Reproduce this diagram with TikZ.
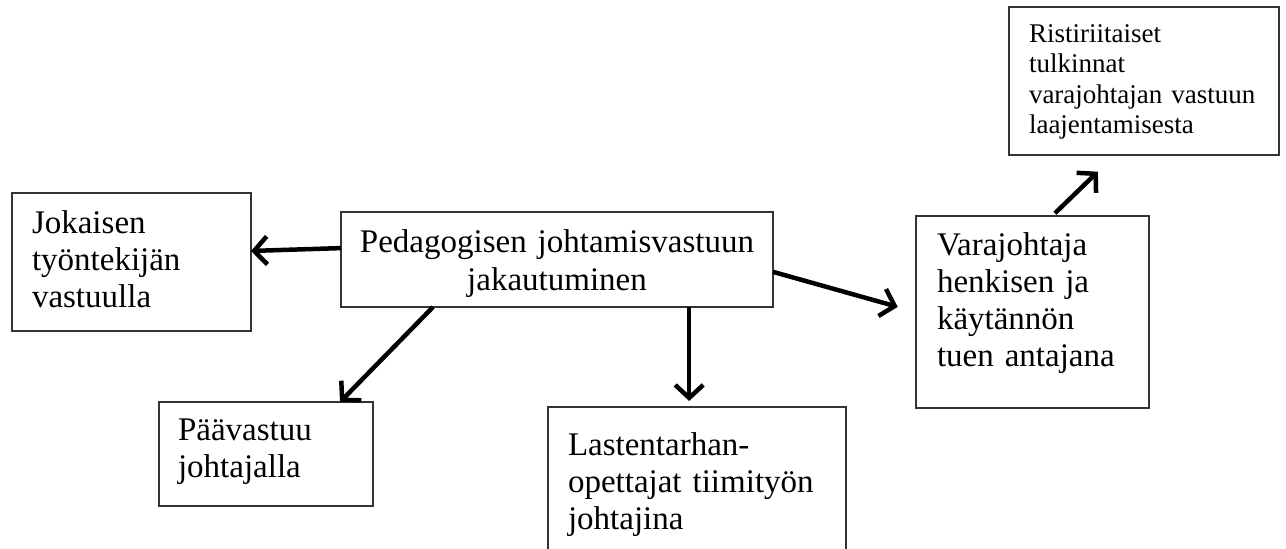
\documentclass[tikz,border=0pt]{standalone}
\usepackage{fontspec}
\setmainfont{Liberation Serif}
\usetikzlibrary{arrows.meta,calc}

\begin{document}
\begin{tikzpicture}[x=1pt,y=-1pt,
  box/.style={draw=black!80,line width=1.2pt,anchor=base west,inner ysep=0pt,outer sep=0pt,align=left,font=\fontsize{33}{37}\selectfont},
  arr/.style={line width=4.5pt,-{Straight Barb[length=13pt,width=28pt]}}]
\useasboundingbox (0,0) rectangle (1286,549);

\node[box,inner xsep=20pt,text width=199pt,text height=40pt,text depth=98pt] (jokaisen) at (12,233) {Jokaisen\\työntekijän\\vastuulla};
\node[box,align=center,font=\fontsize{33}{38}\selectfont,inner xsep=8pt,text width=416pt,text height=40pt,text depth=55pt] (pedagog) at (341,252) {Pedagogisen johtamisvastuun\\jakautuminen};
\node[box,inner xsep=19pt,text width=176pt,text height=38pt,text depth=66pt] (paavastuu) at (159,440) {Päävastuu\\johtajalla};
\node[box,inner xsep=20pt,text width=258pt,text height=48pt,text depth=110pt] (lastentarhan) at (548,455) {Lastentarhan-\\opettajat tiimityön\\johtajina};
\node[box,inner xsep=21pt,text width=191pt,text height=39pt,text depth=153pt] (varajohtaja) at (916,255) {Varajohtaja\\henkisen ja\\käytännön\\tuen antajana};
\node[box,font=\fontsize{27}{30.5}\selectfont,inner xsep=20pt,text width=230pt,text height=35pt,text depth=113pt] (ristiriita) at (1009,42) {Ristiriitaiset\\tulkinnat\\varajohtajan vastuun\\laajentamisesta};

\coordinate (a3) at ($(pedagog.south west)!0.806!(pedagog.south east)$);
\draw[arr] ($(pedagog.north west)!0.38!(pedagog.south west)$) -- ($(jokaisen.north east)!0.42!(jokaisen.south east)$);
\draw[arr] ($(pedagog.south west)!0.213!(pedagog.south east)$) -- ($(paavastuu.north west)!0.846!(paavastuu.north east)$);
\draw[arr,shorten >=6pt] (a3) -- (a3 |- lastentarhan.north);
\draw[arr,shorten >=19pt] ($(pedagog.north east)!0.63!(pedagog.south east)$) -- (varajohtaja.west);
\draw[arr,shorten <=4pt,shorten >=24pt] ($(varajohtaja.north west)!0.584!(varajohtaja.north east)$) -- ($(ristiriita.south west)!0.393!(ristiriita.south east)$);

\end{tikzpicture}
\end{document}
